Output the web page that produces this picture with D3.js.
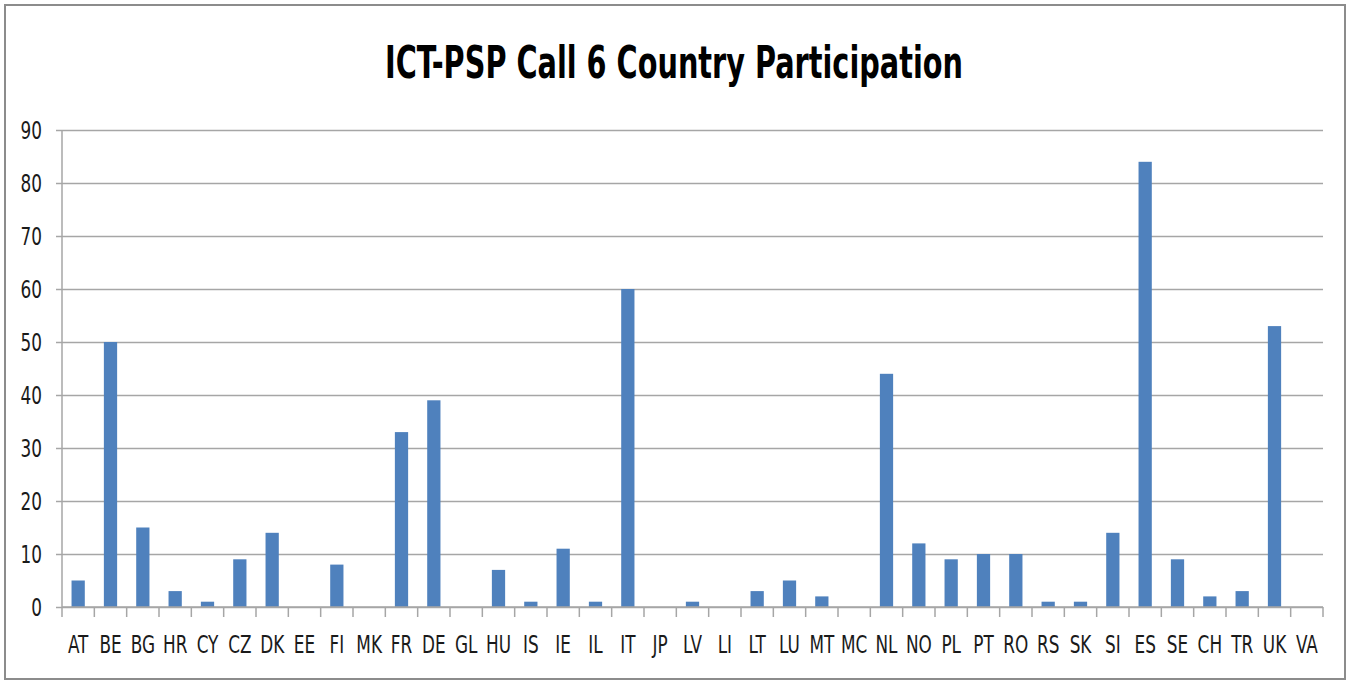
<!DOCTYPE html>
<html>
<head>
  <meta charset="utf-8" />
  <title>ICT-PSP Call 6 Country Participation</title>
  <script src="https://d3js.org/d3.v7.min.js"></script>
  <style>
    html, body { margin: 0; padding: 0; background: #fff; }
    svg text { font-family: "Liberation Sans Narrow", "DejaVu Sans Condensed", sans-serif; fill: #1a1a1a; }
  </style>
</head>
<body>
<div id="chart"></div>
<script>
  // Chart data
  const countries = ["AT","BE","BG","HR","CY","CZ","DK","EE","FI","MK","FR","DE","GL","HU","IS","IE","IL","IT","JP","LV","LI","LT","LU","MT","MC","NL","NO","PL","PT","RO","RS","SK","SI","ES","SE","CH","TR","UK","VA"];
  const participants = [5,50,15,3,1,9,14,0,8,0,33,39,0,7,1,11,1,60,0,1,0,3,5,2,0,44,12,9,10,10,1,1,14,84,9,2,3,53,0];
  const yTicks = [0,10,20,30,40,50,60,70,80,90];
  const chartTitle = "ICT-PSP Call 6 Country Participation";

  const width = 1352, height = 680;
  const margin = { top: 130, right: 29, bottom: 73, left: 62 };
  const labelSize = 25;   // tick label font size
  const squeeze = 0.75;   // horizontal squeeze to mimic the narrow source font

  const svg = d3.select("#chart").append("svg")
    .attr("width", width)
    .attr("height", height);

  // outer chart frame
  svg.append("rect")
    .attr("x", 5).attr("y", 5)
    .attr("width", 1340).attr("height", 674)
    .attr("fill", "#fff")
    .attr("stroke", "#8c8c8c")
    .attr("stroke-width", 2);

  const x = d3.scaleBand()
    .domain(countries)
    .range([margin.left, width - margin.right])
    .paddingInner(0.59)
    .paddingOuter(0.295);

  const y = d3.scaleLinear()
    .domain([0, 90])
    .range([height - margin.bottom, margin.top]);

  // title
  svg.append("text")
    .attr("x", 674).attr("y", 78)
    .attr("text-anchor", "middle")
    .attr("font-size", 44)
    .attr("font-weight", "bold")
    .attr("textLength", 578)
    .attr("lengthAdjust", "spacingAndGlyphs")
    .style("fill", "#000")
    .text(chartTitle);

  // gridlines
  const yAxis = d3.axisLeft(y)
    .tickValues(yTicks)
    .tickSize(-(width - margin.right - margin.left + 6))
    .tickFormat("");

  const gy = svg.append("g")
    .attr("transform", `translate(${margin.left - 6},0)`)
    .call(yAxis);
  gy.select(".domain").remove();
  gy.selectAll(".tick line")
    .attr("stroke", "#a6a6a6")
    .attr("stroke-width", 1.5);

  // y labels, right aligned and squeezed
  svg.append("g").selectAll("text")
    .data(yTicks)
    .join("text")
    .attr("transform", d => `translate(42,${y(d) + 9}) scale(${squeeze},1)`)
    .attr("text-anchor", "end")
    .attr("font-size", labelSize)
    .text(d => d3.format("d")(d));

  // vertical axis line
  svg.append("line")
    .attr("x1", margin.left).attr("x2", margin.left)
    .attr("y1", margin.top).attr("y2", height - margin.bottom)
    .attr("stroke", "#a6a6a6")
    .attr("stroke-width", 1.5);

  // bars
  svg.append("g").selectAll("rect")
    .data(participants)
    .join("rect")
    .attr("x", (d, i) => x(countries[i]))
    .attr("width", x.bandwidth())
    .attr("y", d => y(d))
    .attr("height", d => y(0) - y(d))
    .attr("fill", "#4f81bd");

  // x axis with ticks between categories
  const step = x.step();
  const boundaries = d3.range(countries.length + 1).map(i => margin.left + i * step);
  const gx = svg.append("g");
  gx.append("line")
    .attr("x1", margin.left).attr("x2", width - margin.right)
    .attr("y1", y(0)).attr("y2", y(0))
    .attr("stroke", "#a6a6a6").attr("stroke-width", 1.5);
  gx.selectAll("line.sep")
    .data(boundaries)
    .join("line")
    .attr("class", "sep")
    .attr("x1", d => d).attr("x2", d => d)
    .attr("y1", y(0)).attr("y2", y(0) + 10)
    .attr("stroke", "#a6a6a6").attr("stroke-width", 1.5);
  gx.selectAll("text")
    .data(countries)
    .join("text")
    .attr("transform", d => `translate(${x(d) + x.bandwidth() / 2},653) scale(${squeeze},1)`)
    .attr("text-anchor", "middle")
    .attr("font-size", labelSize)
    .text(d => d);
</script>
</body>
</html>
